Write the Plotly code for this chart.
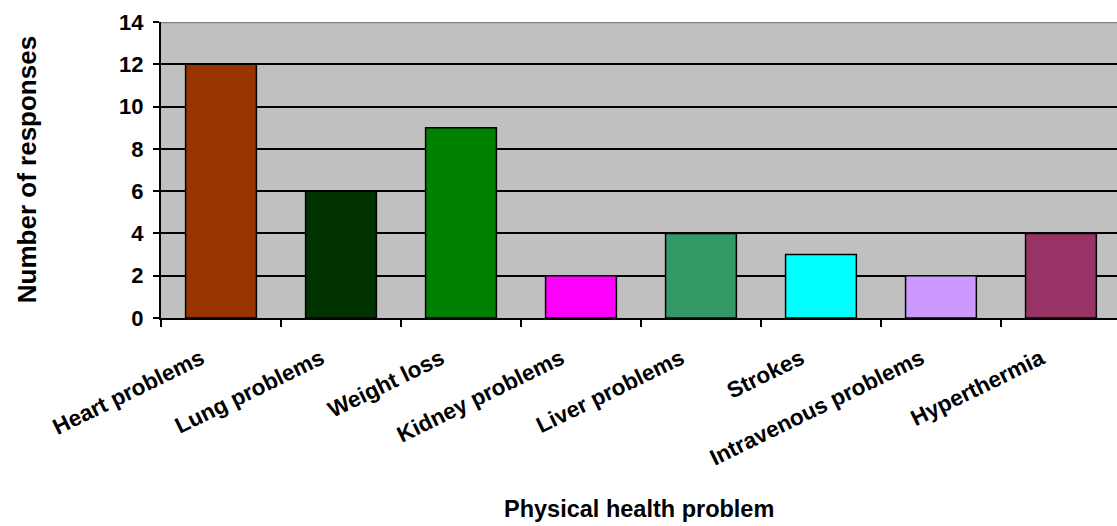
import plotly.graph_objects as go

# Survey responses per physical health problem
categories = ["Heart problems", "Lung problems", "Weight loss", "Kidney problems",
              "Liver problems", "Strokes", "Intravenous problems", "Hyperthermia"]
responses = [12, 6, 9, 2, 4, 3, 2, 4]
bar_colors = ["#993300", "#003300", "#008000", "#FF00FF",
              "#339966", "#00FFFF", "#CC99FF", "#993366"]
y_ticks = [0, 2, 4, 6, 8, 10, 12, 14]

FONT = "Liberation Sans, Arial, sans-serif"

fig = go.Figure(
    go.Bar(
        x=categories,
        y=responses,
        marker=dict(color=bar_colors, line=dict(color="black", width=1.5)),
        hoverinfo="x+y",
    )
)

fig.update_layout(
    width=1117,
    height=526,
    margin=dict(l=161, r=0, t=22, b=208),
    paper_bgcolor="white",
    plot_bgcolor="#C0C0C0",
    bargap=0.41,
    showlegend=False,
    font=dict(family=FONT, color="black"),
)

fig.update_xaxes(
    type="category",
    range=[-0.5, 7.467],
    tickson="boundaries",
    ticks="outside",
    ticklen=7,
    tickwidth=2,
    tickcolor="black",
    tickangle=-26,
    tickfont=dict(family=FONT, size=22.5, color="black", weight="bold"),
    ticklabelstandoff=17,
    ticklabelshift=-20,
    showline=True,
    linecolor="black",
    linewidth=2,
    showgrid=False,
)

fig.update_yaxes(
    range=[0, 14],
    tickvals=y_ticks,
    ticktext=[str(v) for v in y_ticks],
    ticks="outside",
    ticklen=6,
    tickwidth=2,
    tickcolor="black",
    tickfont=dict(family=FONT, size=22, color="black", weight="bold"),
    ticklabelstandoff=5,
    showline=True,
    linecolor="black",
    linewidth=2,
    showgrid=True,
    gridcolor="black",
    gridwidth=1.6,
    zeroline=False,
)

# Grey frame line along the top of the plot area
fig.add_shape(type="line", xref="paper", yref="y", x0=0, x1=1, y0=14, y1=14,
              line=dict(color="#808080", width=2.5), layer="above")

# Axis titles
fig.add_annotation(text="<b>Number of responses</b>", xref="paper", yref="paper",
                   x=-0.14, y=0.5, xanchor="center", yanchor="middle",
                   textangle=-90, showarrow=False,
                   font=dict(family=FONT, size=26, color="black"))
fig.add_annotation(text="<b>Physical health problem</b>", xref="paper", yref="paper",
                   x=0.5, y=-0.645, xanchor="center", yanchor="middle",
                   showarrow=False,
                   font=dict(family=FONT, size=23.5, color="black"))

fig.write_html("out.html")
